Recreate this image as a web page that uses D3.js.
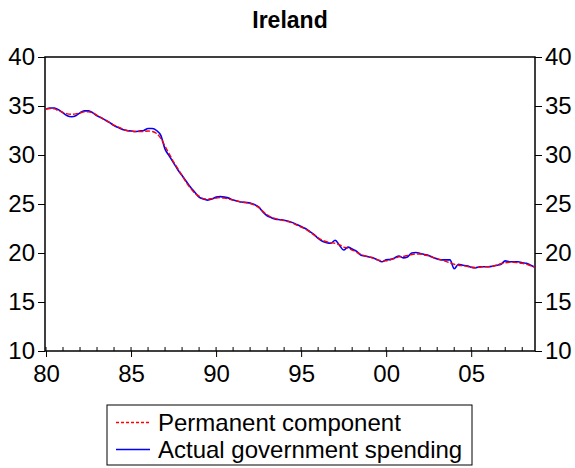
<!DOCTYPE html>
<html><head><meta charset="utf-8">
<script src="https://cdn.jsdelivr.net/npm/d3@7"></script>
<style>body{margin:0;background:#fff}svg{display:block}text{font-family:"Liberation Sans",Arial,sans-serif}</style>
</head><body><svg id="c" width="575" height="468"></svg>
<script>
const title = "Ireland";
const startYear = 1980;
const actual = [
34.7,34.8,34.8,34.6, 34.3,34.0,33.9,34.0, 34.3,34.5,34.5,34.3, 34.0,33.8,33.55,33.3,
33.0,32.8,32.6,32.5, 32.45,32.4,32.45,32.5, 32.7,32.7,32.5,32.0, 30.6,29.9,29.2,28.5,
27.9,27.3,26.7,26.2, 25.7,25.5,25.4,25.5, 25.7,25.75,25.7,25.6, 25.4,25.3,25.2,25.15,
25.1,24.95,24.7,24.2, 23.8,23.6,23.45,23.4, 23.35,23.25,23.1,22.9, 22.7,22.5,22.2,21.9,
21.5,21.2,21.05,21.0, 21.3,20.8,20.3,20.6, 20.4,20.2,19.8,19.7, 19.6,19.5,19.3,19.1,
19.3,19.35,19.5,19.7, 19.5,19.6,20.0,20.05, 19.95,19.85,19.75,19.55, 19.4,19.3,19.3,19.3,
18.4,18.85,18.75,18.7, 18.55,18.5,18.6,18.6, 18.6,18.65,18.75,18.85, 19.2,19.1,19.1,19.1,
19.0,18.95,18.75,18.55];
const permanent = [
34.7,34.75,34.7,34.5, 34.35,34.2,34.15,34.2, 34.3,34.4,34.4,34.3, 34.05,33.8,33.55,33.3,
33.05,32.85,32.65,32.5, 32.45,32.4,32.4,32.4, 32.45,32.4,32.2,31.7, 30.9,30.1,29.3,28.6,
27.9,27.2,26.6,26.1, 25.8,25.55,25.5,25.55, 25.6,25.65,25.6,25.5, 25.4,25.3,25.2,25.15,
25.05,24.9,24.65,24.25, 23.9,23.65,23.5,23.4, 23.3,23.2,23.05,22.85, 22.65,22.45,22.15,21.85,
21.55,21.3,21.15,21.05, 21.0,20.85,20.6,20.5, 20.3,20.1,19.85,19.7, 19.6,19.45,19.3,19.2,
19.2,19.3,19.45,19.6, 19.65,19.75,19.85,19.9, 19.9,19.8,19.7,19.55, 19.4,19.3,19.15,19.0,
18.85,18.75,18.7,18.65, 18.55,18.5,18.55,18.6, 18.6,18.65,18.75,18.9, 19.0,19.05,19.05,19.0,
18.95,18.85,18.7,18.55];
const yTicks = [10,15,20,25,30,35,40];
const xTicks = [1980,1985,1990,1995,2000,2005];
const xTickLabels = ["80","85","90","95","00","05"];
const seriesNames = ["Permanent component","Actual government spending"];

const FONT = "Liberation Sans, Arial, sans-serif";
const svg = d3.select("#c");
const L=45, R=535, T=57, B=351;
const x = d3.scaleLinear().domain([1980, 2008.75]).range([L+1, R]);
const y = d3.scaleLinear().domain([10,40]).range([B, T]);

svg.append("text").attr("x",290).attr("y",28).attr("text-anchor","middle")
  .attr("font-weight","bold").attr("font-size",23).attr("font-family",FONT).text(title);

const g = svg.append("g");
g.append("rect").attr("x",L).attr("y",T).attr("width",R-L).attr("height",B-T)
  .attr("fill","none").attr("stroke","#000").attr("stroke-width",1.5);

const yl = g.append("g").attr("transform",`translate(${L},0)`)
  .call(d3.axisLeft(y).tickValues(yTicks).tickSize(7).tickPadding(3));
const yr = g.append("g").attr("transform",`translate(${R},0)`)
  .call(d3.axisRight(y).tickValues(yTicks).tickSize(7).tickPadding(3));
[yl,yr].forEach(a=>{a.select(".domain").remove();
  a.attr("font-size",24).attr("font-family",FONT);
  a.selectAll("text").attr("fill","#000");
  a.selectAll("line").attr("stroke","#000");});

const xa = g.append("g").attr("transform",`translate(0,${B})`)
  .call(d3.axisBottom(x).tickValues(xTicks).tickSize(6).tickPadding(8).tickFormat((d,i)=>xTickLabels[i]));
xa.select(".domain").remove();
xa.attr("font-size",24).attr("font-family",FONT);
xa.selectAll("text").attr("fill","#000");
xa.selectAll("line").attr("stroke","#000");
const minor = d3.range(1980, 2009);
g.append("g").selectAll("line").data(minor).join("line")
  .attr("x1",d=>x(d)).attr("x2",d=>x(d)).attr("y1",B).attr("y2",B-4)
  .attr("stroke","#000");

const line = d3.line().x((d,i)=>x(startYear+i/4)).y(d=>y(d)).curve(d3.curveMonotoneX);
g.append("path").datum(actual).attr("d",line).attr("fill","none")
  .attr("stroke","#0000ff").attr("stroke-width",1.6);
g.append("path").datum(permanent).attr("d",line).attr("fill","none")
  .attr("stroke","#ff0000").attr("stroke-width",1.4).attr("stroke-dasharray","5,2");

const lg = svg.append("g");
lg.append("rect").attr("x",107).attr("y",405).attr("width",365).attr("height",60)
  .attr("fill","#fff").attr("stroke","#000").attr("stroke-width",1);
const rows = [{n:seriesNames[0],c:"#ff0000",d:"3,2",yy:422.5,by:431},{n:seriesNames[1],c:"#0000ff",d:"none",yy:449.5,by:458}];
rows.forEach(r=>{
  lg.append("line").attr("x1",116).attr("x2",150).attr("y1",r.yy).attr("y2",r.yy)
    .attr("stroke",r.c).attr("stroke-width",1.3).attr("stroke-dasharray",r.d);
  lg.append("text").attr("x",158).attr("y",r.by).attr("font-size",24).attr("font-family",FONT).text(r.n);
});
</script></body></html>
